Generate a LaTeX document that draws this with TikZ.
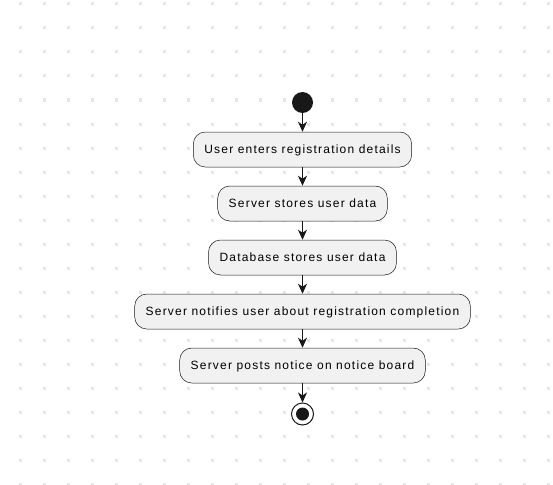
\documentclass[tikz,border=0pt]{standalone}
\usepackage{fontspec}
\setmainfont{Liberation Sans}[LetterSpace=10]
\usetikzlibrary{arrows.meta}
\definecolor{boxfill}{HTML}{F1F1F1}
\definecolor{ink}{HTML}{181818}
\definecolor{griddot}{HTML}{E6E6E6}

\begin{document}
\begin{tikzpicture}[x=1pt, y=-1pt, node distance={54pt},
    act/.style = {draw=ink, line width=0.5pt, fill=boxfill, rounded corners=12pt, minimum height=35pt, inner xsep=11pt, text depth=0pt, font=\fontsize{12}{14}\selectfont},
    flow/.style = {-{Stealth[length=10pt, width=9pt, inset=3pt]}, line width=1.1pt, draw=ink}]
    \useasboundingbox (0,0) rectangle (553,484);
    % dotted background
    \foreach \gx in {20,44,...,548}
        \foreach \gy in {4,28,...,484}
            \fill[griddot] (\gx-1.5,\gy-1.5) rectangle (\gx+1.5,\gy+1.5);
    \node[circle, fill=ink, minimum size=21pt, inner sep=0pt] (start) at (302.5,102.5) {};
    \node[act] (1) [below of=start, node distance={47pt}] {User enters registration details};
    \node[act] (2) [below of=1] {Server stores user data};
    \node[act] (3) [below of=2] {Database stores user data};
    \node[act] (4) [below of=3] {Server notifies user about registration completion};
    \node[act] (5) [below of=4] {Server posts notice on notice board};
    \node[circle, draw=ink, line width=1pt, fill=white, minimum size=22pt, inner sep=0pt] (stop) [below of=5, node distance={48.5pt}] {};
    \node[circle, fill=ink, minimum size=13pt, inner sep=0pt] (stopdot) at (stop) {};
    \draw[flow] (start) -- (1);
    \draw[flow] (1) -- (2);
    \draw[flow] (2) -- (3);
    \draw[flow] (3) -- (4);
    \draw[flow] (4) -- (5);
    \draw[flow] (5) -- (stop);
\end{tikzpicture}
\end{document}
